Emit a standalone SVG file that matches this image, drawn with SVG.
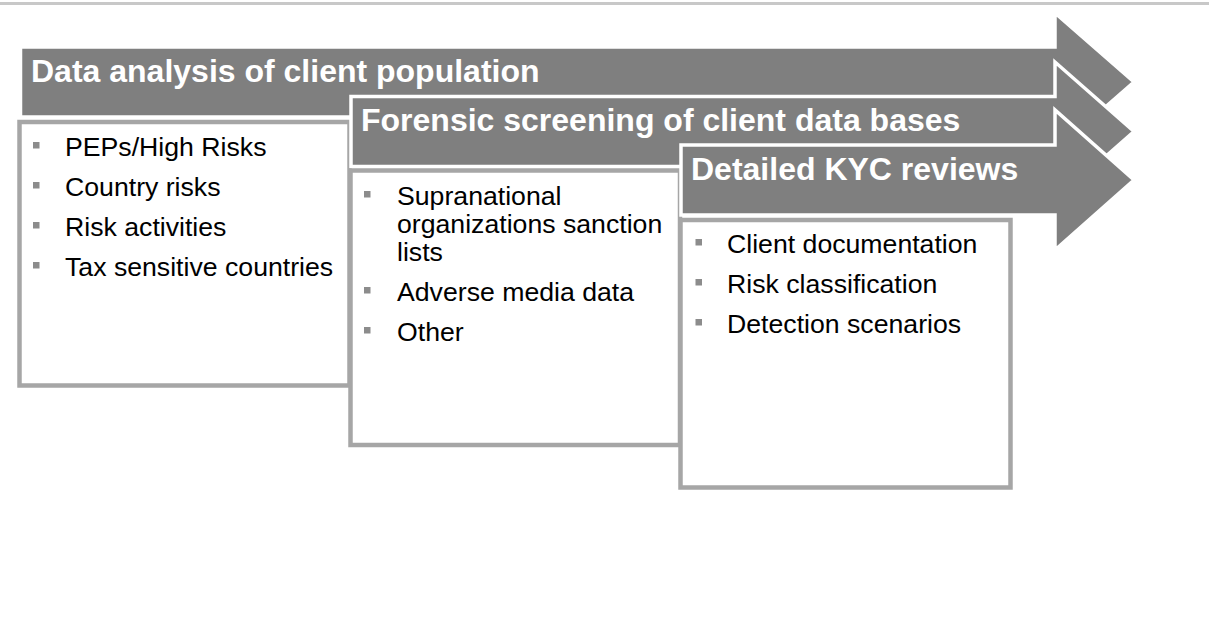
<svg xmlns="http://www.w3.org/2000/svg" width="1209" height="621" viewBox="0 0 1209 621">
  <style>
    .arrow { fill: #7f7f7f; stroke: #ffffff; stroke-width: 3.5; stroke-linejoin: miter; }
    .box { fill: #ffffff; stroke: #a6a6a6; stroke-width: 4.5; }
    .title { font-family: "Liberation Sans", Arial, sans-serif; font-size: 32px; font-weight: bold; fill: #ffffff; }
    .item { font-family: "Liberation Sans", Arial, sans-serif; font-size: 26.67px; fill: #000000; }
    .bullet { fill: #8c8c8c; }
  </style>
  <rect x="0" y="0" width="1209" height="621" fill="#ffffff"/>
  <line x1="0" y1="3.5" x2="1209" y2="3.5" stroke="#c8c8c8" stroke-width="3"/>

  <g id="stage1-arrow">
    <path class="arrow" d="M20.5,47 H1055 V13 L1134,82 L1055,151 V117 H20.5 Z"/>
    <text class="title" x="31" y="82">Data analysis of client population</text>
  </g>
  <g id="stage1-box">
    <rect class="box" x="19.5" y="122" width="330" height="263.5"/>
    <rect class="bullet" x="33" y="142" width="6.5" height="6.5"/>
    <text class="item" x="65" y="156">PEPs/High Risks</text>
    <rect class="bullet" x="33" y="182" width="6.5" height="6.5"/>
    <text class="item" x="65" y="196">Country risks</text>
    <rect class="bullet" x="33" y="222" width="6.5" height="6.5"/>
    <text class="item" x="65" y="236">Risk activities</text>
    <rect class="bullet" x="33" y="262" width="6.5" height="6.5"/>
    <text class="item" x="65" y="276">Tax sensitive countries</text>
  </g>

  <g id="stage2-arrow">
    <path class="arrow" d="M351,96.5 H1055 V62 L1134,131.5 L1055,201 V166.5 H351 Z"/>
    <text class="title" x="361" y="131">Forensic screening of client data bases</text>
  </g>
  <g id="stage2-box">
    <rect class="box" x="350.5" y="170.5" width="329.5" height="274.5"/>
    <rect class="bullet" x="364" y="191" width="6.5" height="6.5"/>
    <text class="item" x="397" y="205">Supranational</text>
    <text class="item" x="397" y="233">organizations sanction</text>
    <text class="item" x="397" y="261">lists</text>
    <rect class="bullet" x="364" y="287" width="6.5" height="6.5"/>
    <text class="item" x="397" y="301">Adverse media data</text>
    <rect class="bullet" x="364" y="327" width="6.5" height="6.5"/>
    <text class="item" x="397" y="341">Other</text>
  </g>

  <g id="stage3-arrow">
    <path class="arrow" d="M681,145 H1055 V110 L1134,180 L1055,250 V215 H681 Z"/>
    <text class="title" x="691" y="180">Detailed KYC reviews</text>
  </g>
  <g id="stage3-box">
    <rect class="box" x="680.5" y="220" width="330" height="267.5"/>
    <rect class="bullet" x="695.5" y="239" width="6.5" height="6.5"/>
    <text class="item" x="727" y="253">Client documentation</text>
    <rect class="bullet" x="695.5" y="279" width="6.5" height="6.5"/>
    <text class="item" x="727" y="293">Risk classification</text>
    <rect class="bullet" x="695.5" y="319" width="6.5" height="6.5"/>
    <text class="item" x="727" y="333">Detection scenarios</text>
  </g>
</svg>
